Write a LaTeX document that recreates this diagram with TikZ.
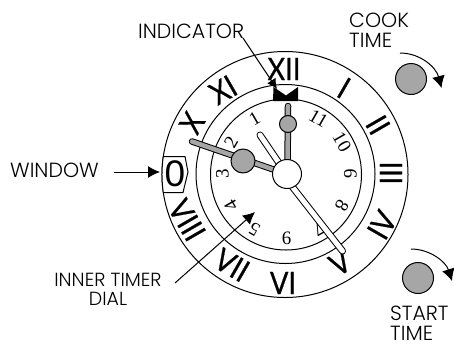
\documentclass[tikz,border=0pt]{standalone}
\usepackage{fontspec}
\setmainfont[UprightFont={* Light}]{Poppins}
\newfontfamily\romanfont[FakeStretch=0.88,FakeBold=0.5]{Lato}
\newfontfamily\numfont{Liberation Serif}
\newfontfamily\winfont{Liberation Sans}
\usetikzlibrary{arrows.meta,calc}
\definecolor{dialgray}{HTML}{A6A6A6}
\tikzset{
  x=1pt,y=-1pt,
  lbl/.style={inner sep=0pt,font=\fontsize{20.5}{20}\selectfont,align=left},
  lblsmall/.style={inner sep=0pt,font=\fontsize{19}{19}\selectfont,align=center},
  rom/.style={inner sep=0pt,font=\romanfont\fontsize{31}{31}\selectfont},
  num/.style={inner sep=0pt,font=\numfont\fontsize{19}{19}\selectfont},
  ring/.style={draw=black,line width=1pt},
  hand/.style={draw=black,line width=1pt,fill=dialgray},
  whand/.style={draw=black,line width=1pt,fill=white},
  pointer/.style={line width=1pt,-{Latex[length=12pt,width=12pt]}},
  turn/.style={line width=1pt,-{Latex[length=12pt,width=13pt]}},
}
\begin{document}
\begin{tikzpicture}
\useasboundingbox (0,0) rectangle (454,343);
\coordinate (c) at (286.5,174);
\draw[ring] (285,174.5) circle[radius=123];
\draw[ring] (285.5,174) circle[radius=89.5];
\draw[ring] (286,174.5) circle[radius=75.5];
% roman numerals
\node[rom] (r12) at (284,69) {XII};
\node[rom,rotate=-30] (r1) at (344,88) {I};
\node[rom,rotate=-60] (r2) at (378,125) {II};
\node[rom,rotate=90] (r3) at (391,173) {III};
\node[rom,rotate=60] (r4) at (382,225) {IV};
\node[rom,rotate=30] (r5) at (340,263) {V};
\node[rom] (r6) at (283,283) {VI};
\node[rom,rotate=-30] (r7) at (232,265) {VII};
\node[rom,rotate=-60] (r8) at (187,220) {VIII};
\node[rom,rotate=60] (r10) at (192,123) {X};
\node[rom,rotate=30] (r11) at (223,90) {XI};
% window
\draw[ring,fill=white] (163.3,192.5) arc[start angle=171.6,end angle=188.4,radius=123]
  -- (185,156.5) -- (188,172) -- (183,192.5) -- cycle;
\node[inner sep=0pt,font=\winfont\fontsize{37}{37}\selectfont] (win0) at (175,174) {0};
% inner numbers
\foreach \n/\a/\r in {1/330/30,2/300/60,3/270/90,4/240/120,5/210/150,6/180/0,7/150/210,8/120/240,9/90/90,10/60/300,11/30/330}{
  \node[num,rotate=\r] (n\n) at ($(286.5,174)+({64*sin(\a)},{-64*cos(\a)})$) {\n};
}
% indicator
\fill (273,101) -- (273.5,87) -- (286,95.5) -- (298,87) -- (298,101) -- cycle;
% hands
\coordinate (sw) at (260,135);
\coordinate (lw1) at (287,180);
\coordinate (lw2) at (342.5,251);
\draw[line width=7pt,line cap=round] (c) -- (sw);
\draw[white,line width=5pt,line cap=round] (c) -- (sw);
\draw[line width=7pt,line cap=round] (lw1) -- (lw2);
\draw[white,line width=5pt,line cap=round] (lw1) -- (lw2);
\coordinate (gv) at (288,106);
\coordinate (gh) at (192,141.5);
\draw[line width=6.5pt,line cap=round] (287.5,174) -- (gv);
\draw[dialgray,line width=4.5pt,line cap=round] (287.5,174) -- (gv);
\draw[line width=6.5pt,line cap=round] (c) -- (gh);
\draw[dialgray,line width=4.5pt,line cap=round] (c) -- (gh);
\node[circle,hand,minimum size=17pt,inner sep=0pt] (kn1) at (288,124) {};
\node[circle,hand,minimum size=24pt,inner sep=0pt] (kn2) at (243,161) {};
\node[circle,whand,minimum size=29pt,inner sep=0pt] (hub) at (287,174) {};
% knobs
\node[circle,hand,minimum size=31pt,inner sep=0pt] (cook) at (411,79) {};
\node[circle,hand,minimum size=31pt,inner sep=0pt] (start) at (418,278) {};
\coordinate (cA) at (400,53);\coordinate (cB) at (441.5,88);
\coordinate (sA) at (411,249);\coordinate (sB) at (452,281);
\draw[turn] (cA) .. controls (420,53) and (436,67) .. (cB);
\draw[turn] (sA) .. controls (430,249) and (446,262) .. (sB);
% labels
\node[lbl,anchor=base west] (lw) at (10,177) {WINDOW};
\node[lbl,anchor=base west] (li) at (138,38) {INDICATOR};
\node[lbl,anchor=south west] (lc) at (349,48) {COOK\\TIME};
\node[lbl,anchor=south west] (ls) at (390,341) {START\\TIME};
\node[lblsmall] (ld) at (108,289) {INNER TIMER\\DIAL};
\coordinate (iT) at (277,89);\coordinate (wT) at (160,172);\coordinate (dT) at (255,212);
\coordinate (iS) at (243,38);\coordinate (wS) at (114,172);\coordinate (dS) at (175,283);
\draw[pointer,-{Latex[length=10pt,width=10pt]}] (iS) -- (iT);
\draw[pointer] (wS) -- (wT);
\draw[pointer] (dS) -- (dT);
\end{tikzpicture}
\end{document}
